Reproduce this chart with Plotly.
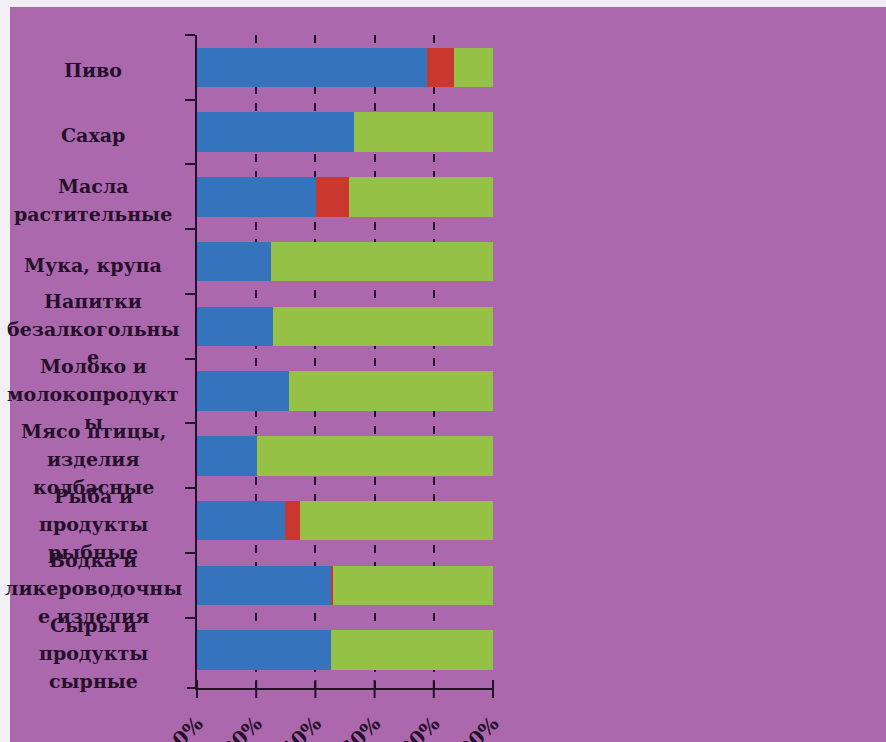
import plotly.graph_objects as go

categories = ["Пиво", "Сахар", "Масла растительные", "Мука, крупа",
              "Напитки безалкогольные", "Молоко и молокопродукты",
              "Мясо птицы, изделия колбасные", "Рыба и продукты рыбные",
              "Водка и ликероводочные изделия", "Сыры и продукты сырные"]
label_lines = [["Пиво"], ["Сахар"], ["Масла", "растительные"], ["Мука, крупа"],
               ["Напитки", "безалкогольны", "е"], ["Молоко и", "молокопродукт", "ы"],
               ["Мясо птицы,", "изделия", "колбасные"], ["Рыба и", "продукты", "рыбные"],
               ["Водка и", "ликероводочны", "е изделия"], ["Сыры и", "продукты", "сырные"]]
blue = [77.7, 53.0, 40.2, 25.0, 25.7, 31.1, 20.3, 29.7, 45.6, 45.4]
red = [9.1, 0.0, 11.2, 0.0, 0.0, 0.0, 0.0, 5.1, 0.4, 0.0]
green = [13.2, 47.0, 48.6, 75.0, 74.3, 68.9, 79.7, 65.2, 54.0, 54.6]
x_ticks = [0, 20, 40, 60, 80, 100]
x_tick_text = ["0%", "20%", "40%", "60%", "80%", "100%"]
X_MAX = 100

DARK = "#24102A"
PURPLE = "#AC68AD"
FONT = "DejaVu Serif"

fig = go.Figure()
for vals, col in [(blue, "#3574BC"), (red, "#C9372F"), (green, "#95C146")]:
    fig.add_trace(go.Bar(y=categories, x=vals, orientation="h",
                         marker=dict(color=col, line=dict(width=0)),
                         showlegend=False, hoverinfo="x+y"))

W, H = 886, 742
l, r, t, b = 197, 393, 35, 54
pw, ph = W - l - r, H - t - b
def px_x(px):
    return (px - l) / pw
def px_y(py):
    return (H - b - py) / ph

shapes = [
    dict(type="rect", xref="paper", yref="paper",
         x0=px_x(10), x1=px_x(W + 5), y0=px_y(H + 5), y1=px_y(7),
         fillcolor=PURPLE, line=dict(width=0), layer="below"),
    # axis line extending left of the value axis origin
    dict(type="line", xref="paper", yref="paper", x0=px_x(187), x1=0, y0=0, y1=0,
         line=dict(color=DARK, width=2)),
]
# crossing tick marks on the value axis (paper x = tick / range max)
for v in x_ticks:
    shapes.append(dict(type="line", xref="paper", yref="paper", x0=v / X_MAX, x1=v / X_MAX,
                       y0=-10 / ph, y1=8 / ph, line=dict(color=DARK, width=2)))

annotations = []
spacing = 28
for cat, lines in zip(categories, label_lines):
    n = len(lines)
    for j, txt in enumerate(lines):
        shift = -(3 + (j - (n - 1) / 2) * spacing)
        annotations.append(dict(x=px_x(93), xref="paper", y=cat, yref="y",
                                text="<b>%s</b>" % txt, showarrow=False,
                                xanchor="center", yanchor="middle", yshift=shift,
                                font=dict(family=FONT, size=19, color=DARK)))

fig.update_layout(
    width=W, height=H,
    margin=dict(l=l, r=r, t=t, b=b, autoexpand=False),
    paper_bgcolor="#F1EFF4", plot_bgcolor="rgba(0,0,0,0)",
    barmode="stack", bargap=0.39,
    annotations=annotations, shapes=shapes,
    xaxis=dict(range=[0, X_MAX], tickvals=x_ticks, ticktext=["<b>%s</b>" % s for s in x_tick_text],
               tickangle=-45, showgrid=True, gridcolor=DARK, gridwidth=2,
               griddash="8px,9px", zeroline=False, showline=True, linecolor=DARK,
               linewidth=2, ticks="", ticklabelstandoff=14,
               tickfont=dict(family=FONT, size=20, color=DARK), automargin=False,
               fixedrange=True),
    yaxis=dict(categoryorder="array", categoryarray=categories, autorange="reversed",
               showticklabels=False, showgrid=False, zeroline=False, showline=True,
               linecolor=DARK, linewidth=2, ticks="outside", ticklen=10, tickwidth=2,
               tickcolor=DARK, tickson="boundaries", automargin=False, fixedrange=True),
)

fig.write_html("out.html", config={"displayModeBar": False},
               post_script="document.body.style.margin='0';")
